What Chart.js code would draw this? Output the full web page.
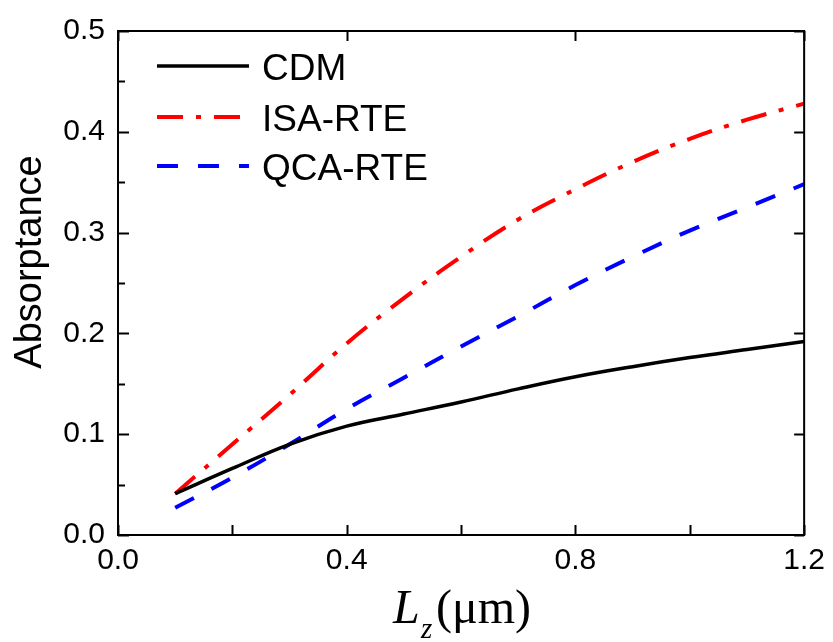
<!DOCTYPE html>
<html>
<head>
<meta charset="utf-8">
<script src="https://cdn.jsdelivr.net/npm/chart.js@4"></script>
<style>
  html, body { margin: 0; padding: 0; background: #fff; }
  #wrap { width: 833px; height: 642px; }
</style>
</head>
<body>
<div id="wrap"><canvas id="grafico" width="833" height="642"></canvas></div>
<script>
// valores
const espessuras = [0.1, 0.2, 0.3, 0.4, 0.5, 0.6, 0.7, 0.8, 0.9, 1.0, 1.1, 1.2];
const cdm    = [0.041, 0.066, 0.090, 0.108, 0.120, 0.132, 0.145, 0.157, 0.167, 0.176, 0.184, 0.192];
const isaRte = [0.041, 0.090, 0.139, 0.190, 0.235, 0.276, 0.313, 0.343, 0.370, 0.393, 0.412, 0.428];
const qcaRte = [0.027, 0.057, 0.090, 0.125, 0.156, 0.187, 0.217, 0.248, 0.276, 0.302, 0.325, 0.348];
const rotulos = ['CDM', 'ISA-RTE', 'QCA-RTE'];

const pontos = arr => arr.map((v, i) => ({ x: espessuras[i], y: v }));

const series = [
    { label: rotulos[0], data: pontos(cdm), borderColor: '#000000', borderWidth: 3.5, borderDash: [] },
    { label: rotulos[1], data: pontos(isaRte), borderColor: '#ff0000', borderWidth: 4, borderDash: [26, 13, 5, 13] },
    { label: rotulos[2], data: pontos(qcaRte), borderColor: '#0000ff', borderWidth: 4, borderDash: [21, 20] }
];

const fonteSans = '"Liberation Sans", Arial, sans-serif';
const fonteSerif = '"Liberation Serif", "Times New Roman", serif';

// moldura, ticks para dentro, legenda e titulos
const moldura = {
    id: 'moldura',
    afterDraw(chart) {
        const { ctx, chartArea: a, scales: { x, y } } = chart;
        ctx.save();
        ctx.strokeStyle = '#000';
        ctx.lineWidth = 2;
        ctx.strokeRect(a.left, a.top, a.right - a.left, a.bottom - a.top);

        ctx.beginPath();
        for (let v = 0; v <= 1.2001; v += 0.2) {
            const px = Math.round(x.getPixelForValue(v)) + 0.5;
            const maior = Math.abs(v / 0.4 - Math.round(v / 0.4)) < 1e-6;
            ctx.moveTo(px, a.bottom); ctx.lineTo(px, a.bottom - 10);
            if (maior) { ctx.moveTo(px, a.top); ctx.lineTo(px, a.top + 10); }
        }
        for (let v = 0; v <= 0.5001; v += 0.05) {
            const py = Math.round(y.getPixelForValue(v)) + 0.5;
            const maior = Math.abs(v / 0.1 - Math.round(v / 0.1)) < 1e-6;
            ctx.moveTo(a.left, py); ctx.lineTo(a.left + (maior ? 11 : 7), py);
            if (maior) { ctx.moveTo(a.right, py); ctx.lineTo(a.right - 10, py); }
        }
        ctx.stroke();

        // legenda
        const linhasY = [66, 117, 166];
        series.forEach((s, i) => {
            ctx.beginPath();
            ctx.strokeStyle = s.borderColor;
            ctx.lineWidth = s.borderWidth;
            ctx.setLineDash(s.borderDash);
            ctx.moveTo(157, linhasY[i]);
            ctx.lineTo(249, linhasY[i]);
            ctx.stroke();
            ctx.setLineDash([]);
            ctx.fillStyle = '#000';
            ctx.font = '37px ' + fonteSans;
            ctx.textBaseline = 'alphabetic';
            ctx.textAlign = 'left';
            ctx.fillText(s.label, 262, linhasY[i] + 14);
        });

        // titulo do eixo y
        ctx.save();
        ctx.translate(31, 262);
        ctx.rotate(-Math.PI / 2);
        ctx.font = '38px ' + fonteSans;
        ctx.textAlign = 'center';
        ctx.textBaseline = 'middle';
        ctx.fillText('Absorptance', 0, 0);
        ctx.restore();

        // titulo do eixo x: L_z(μm)
        ctx.textAlign = 'left';
        ctx.textBaseline = 'alphabetic';
        ctx.font = 'italic 48px ' + fonteSerif;
        ctx.fillText('L', 393, 623);
        ctx.font = 'italic 29px ' + fonteSerif;
        ctx.fillText('z', 421, 638);
        ctx.font = '48px ' + fonteSerif;
        ctx.fillText('(\u03bcm)', 436, 623);
        ctx.restore();
    }
};

const ctx = document.getElementById('grafico').getContext('2d');
new Chart(ctx, {
    type: 'line',
    data: {
        datasets: series.map(s => ({
            label: s.label,
            data: s.data,
            borderColor: s.borderColor,
            borderWidth: s.borderWidth,
            borderDash: s.borderDash,
            pointRadius: 0,
            fill: false,
            tension: 0.4
        }))
    },
    options: {
        responsive: false,
        animation: false,
        layout: { padding: { top: 27, right: 26, left: 0, bottom: 0 } },
        plugins: {
            legend: { display: false },
            tooltip: { enabled: false }
        },
        scales: {
            x: {
                type: 'linear',
                min: 0, max: 1.2,
                grid: { display: false, drawTicks: false },
                border: { display: false },
                ticks: {
                    stepSize: 0.4,
                    padding: 8,
                    color: '#000',
                    font: { family: fonteSans, size: 30 },
                    callback: v => v.toFixed(1)
                },
                afterFit: s => { s.height = 107; }
            },
            y: {
                min: 0, max: 0.5,
                grid: { display: false, drawTicks: false },
                border: { display: false },
                ticks: {
                    stepSize: 0.1,
                    padding: 13,
                    color: '#000',
                    font: { family: fonteSans, size: 30 },
                    callback: v => v.toFixed(1)
                },
                afterFit: s => { s.width = 118; }
            }
        }
    },
    plugins: [moldura]
});
</script>
</body>
</html>
